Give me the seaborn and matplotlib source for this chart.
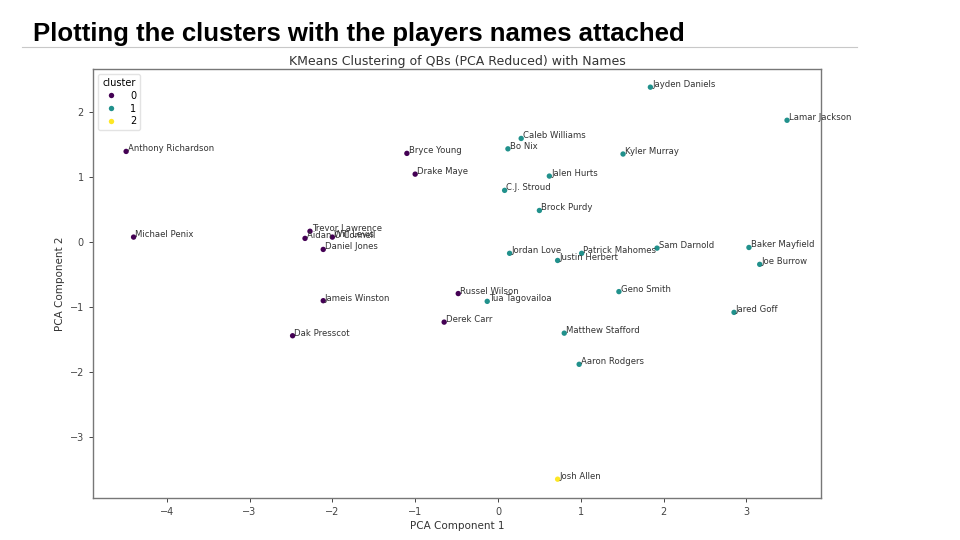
import matplotlib
matplotlib.use("Agg")
import matplotlib.pyplot as plt
import seaborn as sns
import pandas as pd
from matplotlib.lines import Line2D

players = ["Anthony Richardson", "Michael Penix", "Trevor Lawrence", "Aidan O'Connell",
           "Will Levis", "Daniel Jones", "Jameis Winston", "Dak Presscot", "Bryce Young",
           "Drake Maye", "Russel Wilson", "Derek Carr", "Tua Tagovailoa", "Caleb Williams",
           "Bo Nix", "C.J. Stroud", "Jalen Hurts", "Brock Purdy", "Jordan Love",
           "Patrick Mahomes", "Justin Herbert", "Sam Darnold", "Geno Smith",
           "Matthew Stafford", "Aaron Rodgers", "Jayden Daniels", "Kyler Murray",
           "Lamar Jackson", "Baker Mayfield", "Joe Burrow", "Jared Goff", "Josh Allen"]
pc1 = [-4.49, -4.40, -2.27, -2.33, -2.00, -2.11, -2.11, -2.48, -1.10, -1.00, -0.48, -0.65,
       -0.13, 0.28, 0.12, 0.08, 0.62, 0.50, 0.14, 1.01, 0.72, 1.92, 1.46, 0.80, 0.98,
       1.84, 1.51, 3.49, 3.03, 3.16, 2.85, 0.72]
pc2 = [1.40, 0.08, 0.17, 0.06, 0.08, -0.11, -0.90, -1.44, 1.37, 1.05, -0.79, -1.23,
       -0.91, 1.60, 1.44, 0.80, 1.02, 0.49, -0.17, -0.17, -0.28, -0.09, -0.76, -1.40,
       -1.88, 2.39, 1.36, 1.88, -0.08, -0.34, -1.08, -3.65]
clusters = [0, 0, 0, 0, 0, 0, 0, 0, 0, 0, 0, 0, 1, 1, 1, 1, 1, 1, 1, 1, 1, 1, 1, 1, 1,
            1, 1, 1, 1, 1, 1, 2]
cluster_levels = ["0", "1", "2"]

df = pd.DataFrame({"PCA1": pc1, "PCA2": pc2, "cluster": [str(c) for c in clusters],
                   "name": players})

plt.rcParams['font.family'] = ['DejaVu Sans']
fig = plt.figure(figsize=(9.6, 5.4), dpi=100)
fig.patch.set_facecolor("white")

# Slide title and rule
fig.text(33 / 960, 1 - 34 / 540, "Plotting the clusters with the players names attached",
         fontsize=18.5, fontweight="bold", family=["Liberation Sans", "DejaVu Sans"],
         ha="left", va="center", color="black")
fig.add_artist(Line2D([22 / 960, 857 / 960], [1 - 47 / 540, 1 - 47 / 540],
                      color="#c8c8c8", lw=0.8))

ax = fig.add_axes([93 / 960, 1 - 498 / 540, (821 - 93) / 960, (498 - 69) / 540])
palette = {"0": "#440154", "1": "#21918c", "2": "#fde725"}
sns.scatterplot(data=df, x="PCA1", y="PCA2", hue="cluster", hue_order=cluster_levels,
                palette=palette, s=15, edgecolor="none", ax=ax)

for x, y, n in zip(df["PCA1"], df["PCA2"], df["name"]):
    ax.text(x + 0.02, y, n, fontsize=6.1, color="#333333")

ax.set_xlim(-4.89, 3.90)
ax.set_ylim(-3.94, 2.67)
ax.set_title("KMeans Clustering of QBs (PCA Reduced) with Names", fontsize=9,
             color="#333333", pad=3)
ax.set_xlabel("PCA Component 1", fontsize=7.5, color="#333333", labelpad=3)
ax.set_ylabel("PCA Component 2", fontsize=7.5, color="#333333", labelpad=3)
ax.tick_params(labelsize=7, colors="#444444", length=3, width=0.7)
for s in ax.spines.values():
    s.set_color("#777777")
    s.set_linewidth(1.0)

leg = ax.legend(title="cluster", loc="upper left", fontsize=7, title_fontsize=7,
                markerscale=1.0, handletextpad=0.9, labelspacing=0.3,
                borderpad=0.4, frameon=True)
leg.get_frame().set_edgecolor("#dddddd")

fig.savefig("out.png", dpi=100, facecolor="white")
